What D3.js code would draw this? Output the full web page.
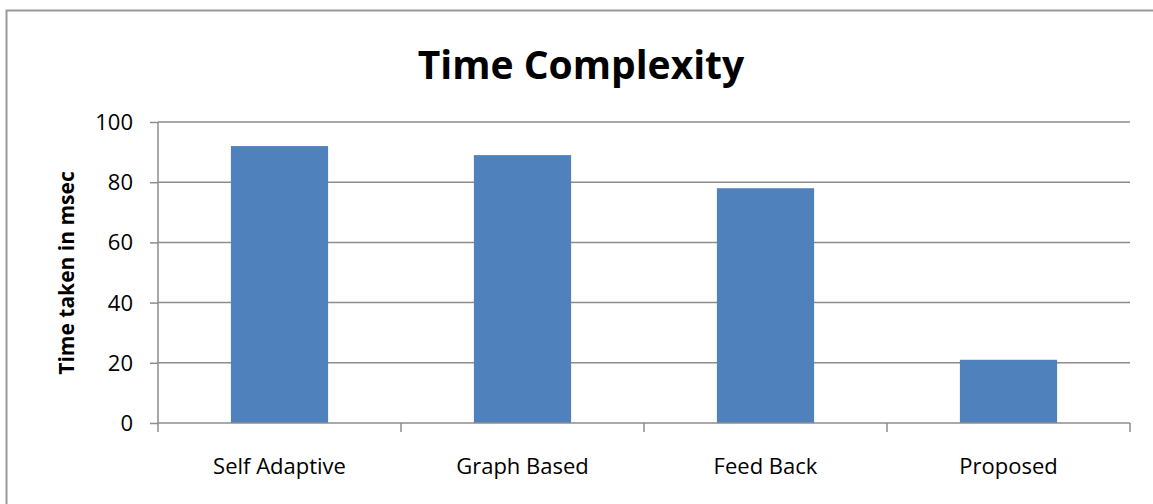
<!DOCTYPE html>
<html><head><meta charset="utf-8">
<script src="https://cdn.jsdelivr.net/npm/d3@7"></script>
<style>body{margin:0;background:#fff}svg{display:block}text{font-family:"Open Sans",sans-serif;fill:#000}</style>
</head><body>
<svg id="c" width="1153" height="504"></svg>
<script>
const categories = ["Self Adaptive", "Graph Based", "Feed Back", "Proposed"];
const values = [92, 89, 78, 21];
const yTicks = [0, 20, 40, 60, 80, 100];
const title = "Time Complexity";
const yLabel = "Time taken in msec";

const svg = d3.select("#c");
// outer chart border
svg.append("rect").attr("x", 6.5).attr("y", 10.5).attr("width", 1160).attr("height", 520)
  .attr("fill", "none").attr("stroke", "#999").attr("stroke-width", 2);

const L = 158, R = 1130, T = 122, B = 423;
const x = d3.scaleBand().domain(categories).range([L, R]).paddingInner(0.6).paddingOuter(0.3);
const y = d3.scaleLinear().domain([0, 100]).range([B, T]);

// gridlines
svg.append("g").selectAll("line").data(yTicks.filter(d => d > 0)).join("line")
  .attr("x1", L).attr("x2", R).attr("y1", d => y(d)).attr("y2", d => y(d))
  .attr("stroke", "#8c8c8c").attr("stroke-width", 1.5);

// bars
svg.append("g").selectAll("rect").data(values).join("rect")
  .attr("x", (d, i) => x(categories[i])).attr("width", x.bandwidth())
  .attr("y", d => y(d)).attr("height", d => B - y(d)).attr("fill", "#4f81bd");

// y axis
const ya = svg.append("g").attr("transform", `translate(${L},0)`)
  .call(d3.axisLeft(y).tickValues(yTicks).tickSize(8).tickPadding(8));
ya.select(".domain").attr("stroke", "#8c8c8c").attr("stroke-width", 1.5).attr("d", `M0,${T}V${B + 1}`);
ya.selectAll(".tick line").attr("stroke", "#8c8c8c").attr("stroke-width", 1.5);
ya.selectAll(".tick text").style("font-size", "22px").attr("x", -25).attr("dy", "0.34em");

// x axis
const xa = svg.append("g").attr("transform", `translate(0,${B})`)
  .call(d3.axisBottom(x).tickSize(0).tickPadding(0));
xa.select(".domain").attr("stroke", "#8c8c8c").attr("stroke-width", 1.5).attr("d", `M${L},0H${R}`);
xa.selectAll(".tick text").style("font-size", "22px").attr("y", 51).attr("dy", 0);
const bounds = [L].concat(categories.map(c => x(c) - x.step() * x.paddingInner() / 2 + x.step()));
xa.append("g").selectAll("line").data(bounds).join("line")
  .attr("x1", d => d).attr("x2", d => d).attr("y1", 0).attr("y2", 9)
  .attr("stroke", "#8c8c8c").attr("stroke-width", 1.5);

// title
svg.append("text").attr("x", 581).attr("y", 79).attr("text-anchor", "middle")
  .style("font-size", "39px").style("font-weight", "bold").text(title);

// y label
svg.append("text").attr("transform", "translate(74,273) rotate(-90)").attr("text-anchor", "middle")
  .style("font-size", "21px").style("font-weight", "bold").text(yLabel);
</script>
</body></html>
